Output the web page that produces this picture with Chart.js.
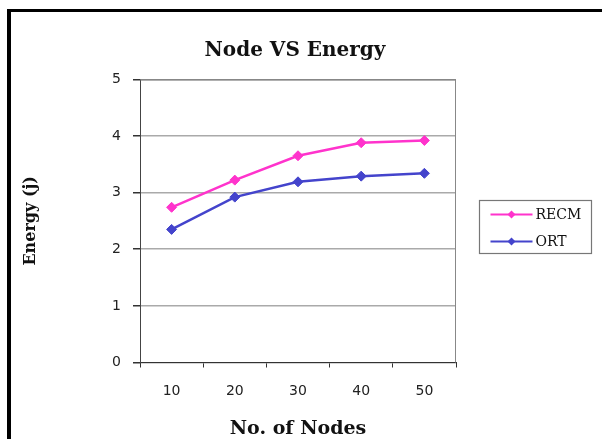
<!DOCTYPE html>
<html>
<head>
<meta charset="utf-8">
<script src="https://cdn.jsdelivr.net/npm/chart.js@4.4.1/dist/chart.umd.min.js"></script>
<style>
  html, body { margin: 0; padding: 0; background: #fff; }
  #wrap { position: relative; width: 602px; height: 439px; overflow: hidden; }
  #frame { position: absolute; left: 7px; top: 9px; width: 700px; height: 600px;
           border-left: 4px solid #000; border-top: 3px solid #000; }
  #chart { position: absolute; left: 0; top: 0; }
</style>
</head>
<body>
<div id="wrap">
  <div id="frame"></div>
  <canvas id="chart" width="602" height="439"></canvas>
</div>
<script>
const nodeCounts = ['10', '20', '30', '40', '50'];
const recmEnergy = [2.74, 3.22, 3.65, 3.88, 3.92];
const ortEnergy = [2.35, 2.92, 3.19, 3.29, 3.34];
const energyTicks = [0, 1, 2, 3, 4, 5];

const RECM_COLOR = '#ff33cc';
const ORT_COLOR = '#4444cc';

// right + top edge of the plot area (Excel style frame)
const plotFrame = {
    id: 'plotFrame',
    beforeDatasetsDraw(chart) {
        const { ctx, chartArea } = chart;
        ctx.save();
        ctx.strokeStyle = '#888';
        ctx.lineWidth = 1;
        ctx.beginPath();
        ctx.moveTo(chartArea.left, chartArea.top + 0.5);
        ctx.lineTo(Math.round(chartArea.right) - 0.5, chartArea.top + 0.5);
        ctx.lineTo(Math.round(chartArea.right) - 0.5, chartArea.bottom);
        ctx.stroke();
        ctx.restore();
    }
};

// boxed legend to the right of the plot, line + diamond per series
const legendBox = {
    id: 'legendBox',
    afterDraw(chart) {
        const { ctx, chartArea } = chart;
        const x = Math.round(chartArea.right) + 23.5;
        const y = Math.round((chartArea.top + chartArea.bottom) / 2) - 20.5;
        const w = 112, h = 53;
        ctx.save();
        ctx.strokeStyle = '#777';
        ctx.lineWidth = 1.2;
        ctx.strokeRect(x, y, w, h);
        chart.data.datasets.forEach((ds, i) => {
            const ry = y + 14 + i * 27;
            ctx.strokeStyle = ds.borderColor;
            ctx.lineWidth = 2;
            ctx.beginPath();
            ctx.moveTo(x + 11, ry);
            ctx.lineTo(x + 53, ry);
            ctx.stroke();
            ctx.fillStyle = ds.borderColor;
            ctx.beginPath();
            ctx.moveTo(x + 32, ry - 4);
            ctx.lineTo(x + 36, ry);
            ctx.lineTo(x + 32, ry + 4);
            ctx.lineTo(x + 28, ry);
            ctx.closePath();
            ctx.fill();
            ctx.fillStyle = '#111';
            ctx.font = '14px "DejaVu Serif"';
            ctx.textBaseline = 'middle';
            ctx.fillText(ds.label, x + 56, ry + 1);
        });
        ctx.restore();
    }
};

new Chart(document.getElementById('chart'), {
    type: 'line',
    data: {
        labels: nodeCounts,
        datasets: [
            {
                label: 'RECM',
                data: recmEnergy,
                borderColor: RECM_COLOR,
                backgroundColor: RECM_COLOR,
                borderWidth: 2.5,
                pointStyle: 'rectRot',
                pointRadius: 5,
                pointBorderWidth: 1,
                tension: 0
            },
            {
                label: 'ORT',
                data: ortEnergy,
                borderColor: ORT_COLOR,
                backgroundColor: ORT_COLOR,
                borderWidth: 2.5,
                pointStyle: 'rectRot',
                pointRadius: 5,
                pointBorderWidth: 1,
                tension: 0
            }
        ]
    },
    options: {
        responsive: false,
        animation: false,
        layout: { padding: { left: 0, right: 12, top: 0, bottom: 0 } },
        scales: {
            x: {
                offset: true,
                grid: {
                    offset: true,
                    drawOnChartArea: false,
                    drawTicks: true,
                    tickLength: 5,
                    tickColor: '#333'
                },
                border: { color: '#333', width: 1 },
                ticks: {
                    color: '#222',
                    padding: 15,
                    font: { family: 'DejaVu Sans', size: 14 }
                },
                title: {
                    display: true,
                    text: 'No. of Nodes',
                    color: '#111',
                    font: { family: 'DejaVu Serif', size: 19, weight: 'bold', lineHeight: 1 },
                    padding: { top: 0, bottom: 0 }
                },
                afterFit(scale) { scale.height = 76.5; }
            },
            y: {
                min: energyTicks[0],
                max: energyTicks[energyTicks.length - 1],
                grid: {
                    color: ctx => ctx.tick && ctx.tick.value === energyTicks[energyTicks.length - 1] ? '#888' : '#aaa',
                    lineWidth: 1.5,
                    tickLength: 7,
                    tickColor: '#333'
                },
                border: { color: '#444', width: 1 },
                ticks: {
                    stepSize: energyTicks[1] - energyTicks[0],
                    color: '#222',
                    padding: 12,
                    font: { family: 'DejaVu Sans', size: 14 }
                },
                title: {
                    display: true,
                    text: 'Energy (j)',
                    color: '#111',
                    font: { family: 'DejaVu Serif', size: 16, weight: 'bold', lineHeight: 1.2 },
                    padding: { top: 21, bottom: 0 }
                },
                afterFit(scale) { scale.width = 140; }
            },
            // empty right-hand space that holds the legend
            legendSpace: {
                type: 'linear',
                position: 'right',
                display: true,
                grid: { display: false },
                border: { display: false },
                ticks: { display: false },
                afterFit(scale) { scale.width = 134; }
            }
        },
        plugins: {
            legend: { display: false },
            tooltip: { enabled: false },
            title: {
                display: true,
                text: 'Node VS Energy',
                color: '#111',
                font: { family: 'DejaVu Serif', size: 20, weight: 'bold', lineHeight: 1.2 },
                padding: { top: 39, bottom: 16.3 }
            }
        }
    },
    plugins: [plotFrame, legendBox]
});
</script>
</body>
</html>
